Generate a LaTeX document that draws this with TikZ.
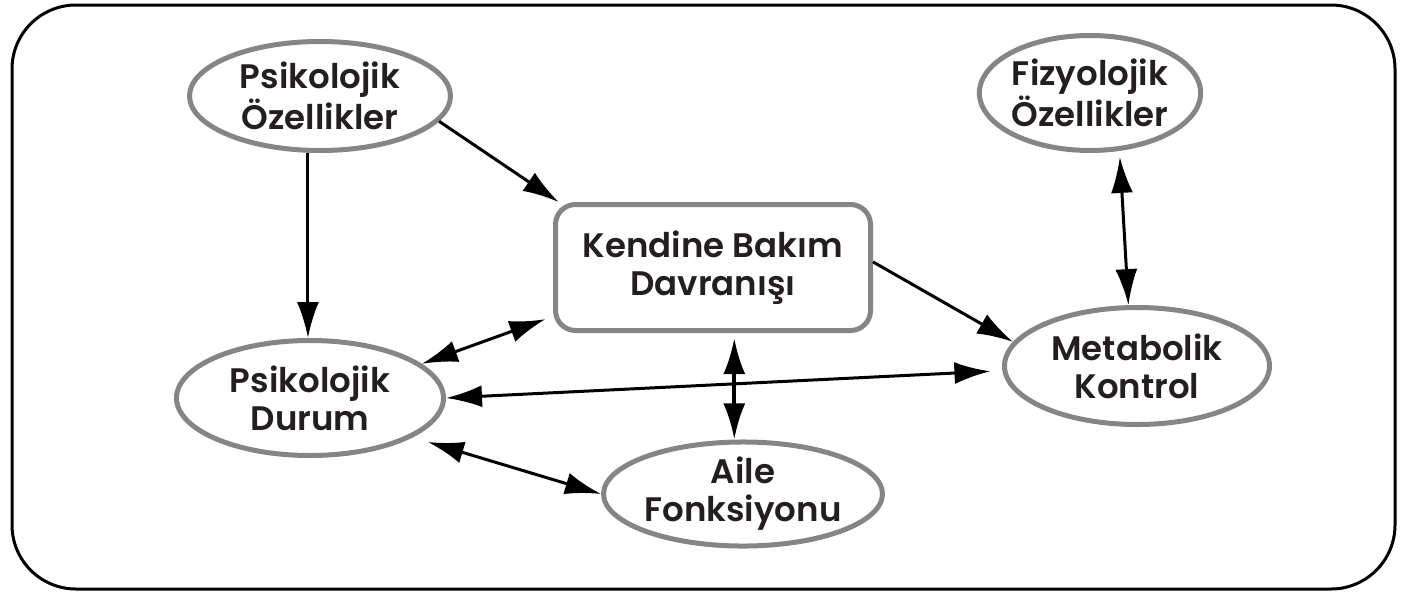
\documentclass[tikz,border=0pt]{standalone}
\usepackage{fontspec}
\newfontfamily\lblfont{Poppins SemiBold}
\usetikzlibrary{arrows.meta, shapes.geometric, calc}
\definecolor{ovgray}{HTML}{858585}
\definecolor{inkblack}{HTML}{231F20}
\tikzset{
  oval/.style={ellipse, draw=ovgray, line width=2.5pt, inner sep=0pt, align=center,
    font=\lblfont\fontsize{17}{19}\selectfont, text=inkblack},
  carebox/.style={rectangle, rounded corners=10pt, draw=ovgray, line width=2.5pt,
    inner sep=0pt, align=center, font=\lblfont\fontsize{17}{19}\selectfont, text=inkblack,
    minimum width=157.5pt, minimum height=63pt},
  arr/.style={-{Latex[length=18pt,width=11pt]}, line width=1.5pt},
  dbl/.style={{Latex[length=18pt,width=11pt]}-{Latex[length=18pt,width=11pt]}, line width=1.5pt}
}
\begin{document}
\begin{tikzpicture}[x=0.5pt,y=-0.5pt]
\useasboundingbox (0,0) rectangle (1401,594);
% Frame
\draw[line width=1.5pt, rounded corners=32pt] (12,5) rectangle (1395,589);

% Nodes
\node[oval, minimum width=130.5pt, minimum height=54.5pt] (po) at (320,96) {Psikolojik\\Özellikler};
\node[oval, minimum width=107.5pt, minimum height=57.5pt] (fo) at (1090,93) {Fizyolojik\\Özellikler};
\node[carebox] (kb) at (713,267.5) {Kendine Bakım\\Davranışı};
\node[oval, minimum width=133.5pt, minimum height=57.5pt] (pd) at (310,398) {Psikolojik\\Durum};
\node[oval, minimum width=132.5pt, minimum height=58.5pt] (mk) at (1137,366) {Metabolik\\Kontrol};
\node[oval, minimum width=124.5pt, minimum height=49.5pt] (ai) at (743,494) {Aile\\Fonksiyonu};

% One-way arrows
\draw[arr] (po.-12.5) -- (kb.157);
\draw[arr] (po.-102) -- (po.-102 |- pd.north);
\draw[arr] (kb.2) -- (mk.169);

% Two-way arrows
\draw[dbl, shorten >=4pt] (pd.17) -- (kb.197);
\draw[dbl, line width=2pt, shorten <=2.5pt] (kb.-72) -- (kb.-72 |- ai.north);
\draw[dbl, shorten >=6pt] (pd.east) -- (mk.182);
\draw[dbl, shorten <=8pt] (pd.-21) -- (ai.west);
\draw[dbl, shorten <=3pt] (fo.-63) -- (mk.98);

\end{tikzpicture}
\end{document}
